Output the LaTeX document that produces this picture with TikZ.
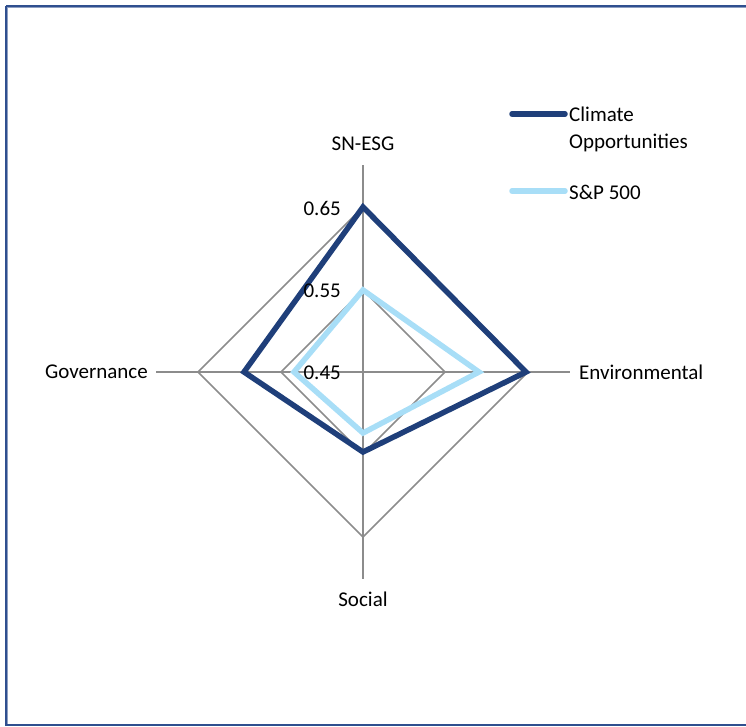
\documentclass[tikz,border=0pt]{standalone}
\usepackage{fontspec}
\setmainfont{Carlito}
\definecolor{darkser}{HTML}{1F3F7A}
\definecolor{lightser}{HTML}{A8DEF7}
\definecolor{gridgray}{HTML}{8C8C8C}
\definecolor{framecol}{HTML}{2F4F8F}
\begin{document}
\begin{tikzpicture}[x=1pt,y=-1pt,
  lbl/.style={font=\fontsize{21}{27}\selectfont, inner sep=0pt, text=black},
  gridline/.style={draw=gridgray, line width=1.5pt},
  axisline/.style={draw=gridgray, line width=1.8pt},
  serdark/.style={draw=darkser, line width=5.5pt, line join=miter},
  serlight/.style={draw=lightser, line width=5.5pt, line join=miter},
  legline/.style={line width=5.5pt, line cap=round}]
\useasboundingbox (0,0) rectangle (746,726);
\draw[framecol!55, line width=3pt] (6,6) -- (760,6);
\draw[framecol!55, line width=3pt] (6,6) -- (6,725);
\draw[framecol, line width=1.6pt] (6,6) -- (760,6);
\draw[framecol, line width=1.6pt] (6,6) -- (6,725) -- (760,725);
% center and axis ends
\coordinate (c) at (363,372);
\coordinate (at) at (363,165);
\coordinate (ar) at (570,372);
\coordinate (ab) at (363,579);
\coordinate (al) at (156,372);
% grid
\draw[gridline] (363,207) -- (528,372) -- (363,537) -- (198,372) -- cycle;
\draw[gridline] (363,290) -- (445,372) -- (363,454) -- (281,372) -- cycle;
\draw[axisline] (c) -- (at);
\draw[axisline] (c) -- (ar);
\draw[axisline] (c) -- (ab);
\draw[axisline] (c) -- (al);
% series
\draw[serlight] (363,290) -- (479,372) -- (363,433) -- (294,372) -- cycle;
\draw[serdark] (363,207) -- (526,372) -- (363,452) -- (244,372) -- cycle;
% tick labels
\node[lbl, anchor=east] (t65) at (341,208) {0.65};
\node[lbl, anchor=east] (t55) at (341,291) {0.55};
\node[lbl, anchor=east] (t45) at (341,373) {0.45};
% axis labels
\node[lbl, anchor=south] (lsn) at (363,151) {SN-ESG};
\node[lbl, anchor=west] (lenv) at (579,372) {Environmental};
\node[lbl, anchor=north] (lsoc) at (363,592) {Social};
\node[lbl, anchor=east] (lgov) at (148,372) {Governance};
% legend
\coordinate (l1a) at (512,114);
\coordinate (l1b) at (565,114);
\coordinate (l2a) at (512,191);
\coordinate (l2b) at (565,191);
\draw[legline, darkser] (l1a) -- (l1b);
\draw[legline, lightser] (l2a) -- (l2b);
\node[lbl, anchor=north west, align=left] (leg1) at (569,107) {Climate\\Opportunities};
\node[lbl, anchor=west] (leg2) at (569,192) {S\&P 500};
\end{tikzpicture}
\end{document}
